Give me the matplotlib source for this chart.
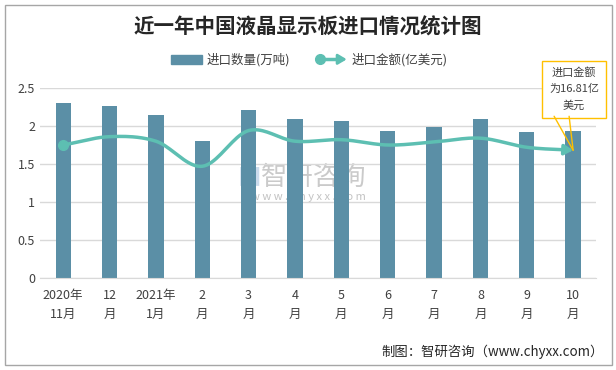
import numpy as np
import matplotlib
matplotlib.use("Agg")
from matplotlib import pyplot as plt
from matplotlib.patches import Patch, Rectangle, FancyArrowPatch
from matplotlib.lines import Line2D
from matplotlib.legend_handler import HandlerBase

plt.rcParams['font.family'] = ['Noto Sans CJK SC', 'DejaVu Sans']

# 数据
months = ['2020年\n11月', '12\n月', '2021年\n1月', '2\n月', '3\n月', '4\n月',
          '5\n月', '6\n月', '7\n月', '8\n月', '9\n月', '10\n月']
qty = [2.30, 2.26, 2.14, 1.80, 2.21, 2.09, 2.07, 1.93, 1.99, 2.09, 1.92, 1.93]   # 万吨
amount = [1.75, 1.86, 1.80, 1.47, 1.94, 1.80, 1.82, 1.75, 1.79, 1.84, 1.72, 1.681]  # 亿美元
yticks = [0, 0.5, 1, 1.5, 2, 2.5]
ytick_labels = ['0', '0.5', '1', '1.5', '2', '2.5']

bar_color = '#5B8FA6'
line_color = '#5DBFB2'
box_color = '#FFC000'


def smooth(x, y, n=20):
    # catmull-rom, only for drawing the smoothed line
    x = np.asarray(x, float)
    y = np.asarray(y, float)
    px = np.concatenate([[2 * x[0] - x[1]], x, [2 * x[-1] - x[-2]]])
    py = np.concatenate([[2 * y[0] - y[1]], y, [2 * y[-1] - y[-2]]])
    xs, ys = [], []
    t = np.linspace(0, 1, n, endpoint=False)
    for i in range(1, len(px) - 2):
        for p, out in ((px, xs), (py, ys)):
            p0, p1, p2, p3 = p[i - 1], p[i], p[i + 1], p[i + 2]
            out.extend(0.5 * ((2 * p1) + (-p0 + p2) * t
                              + (2 * p0 - 5 * p1 + 4 * p2 - p3) * t ** 2
                              + (-p0 + 3 * p1 - 3 * p2 + p3) * t ** 3))
    xs.append(x[-1])
    ys.append(y[-1])
    return np.array(xs), np.array(ys)


class HandlerArrowLine(HandlerBase):
    # legend: circle -> arrow
    def create_artists(self, legend, orig_handle, xdescent, ydescent, width, height, fontsize, trans):
        y = height / 2 - ydescent
        ln = Line2D([-xdescent + 3, width - xdescent - 4], [y, y], color=line_color, lw=2.5,
                    transform=trans)
        dot = Line2D([-xdescent + 3], [y], marker='o', ms=7, color=line_color, transform=trans)
        arr = FancyArrowPatch((width - xdescent - 8, y), (width - xdescent + 2, y),
                              arrowstyle='-|>,head_length=0.5,head_width=0.3', color=line_color,
                              lw=2, mutation_scale=10, transform=trans)
        return [ln, dot, arr]


fig = plt.figure(figsize=(6.16, 3.70), dpi=100)
fig.patches.append(Rectangle((0.008, 0.014), 0.985, 0.972, transform=fig.transFigure,
                             fill=False, ec='#A6A6A6', lw=1))
ax = fig.add_axes([0.065, 0.249, 0.903, 0.513])

x = np.arange(len(months))
ax.bar(x, qty, width=0.33, color=bar_color, zorder=2)

sx, sy = smooth(x, amount)
ax.plot(sx[:-3], sy[:-3], color=line_color, lw=2.5, zorder=3, solid_capstyle='round')
ax.plot(x[0], amount[0], 'o', color=line_color, ms=7, zorder=4)
ax.annotate('', xy=(x[-1], amount[-1]), xytext=(sx[-4], sy[-4]),
            arrowprops=dict(arrowstyle='-|>,head_length=0.5,head_width=0.3',
                            color=line_color, lw=2.5, shrinkA=0, shrinkB=0), zorder=4)

ax.set_xlim(-0.5, len(months) - 0.5)
ax.set_ylim(0, 2.5)
ax.set_yticks(yticks, ytick_labels)
ax.set_xticks(x, months)
ax.tick_params(axis='both', length=0, labelsize=9, colors='#404040')
ax.tick_params(axis='x', pad=8)
for lbl in ax.get_xticklabels():
    lbl.set_linespacing(1.55)
ax.grid(axis='y', color='#D9D9D9', lw=1, zorder=0)
for s in ['left', 'right', 'top']:
    ax.spines[s].set_visible(False)
ax.spines['bottom'].set_color('#D9D9D9')

# 标注框
ax.annotate('进口金额\n为16.81亿\n美元', xy=(x[-1], amount[-1]), xytext=(1, 61),
            textcoords='offset pixels', ha='center', va='center', fontsize=8,
            color='#404040', linespacing=1.75,
            bbox=dict(boxstyle='square,pad=0.6', fc='white', ec=box_color, lw=1),
            annotation_clip=False, zorder=6)
for dx in (-19, -4):
    ax.annotate('', xy=(x[-1], amount[-1]), xytext=(dx, 34), textcoords='offset pixels',
                arrowprops=dict(arrowstyle='-', color=box_color, lw=1, shrinkA=0, shrinkB=0),
                annotation_clip=False, zorder=6)

# 水印
ax.text(0.509, 0.52, '智研咨询', fontsize=19, color='#B4B4B4', alpha=0.7, ha='center',
        va='center', transform=fig.transFigure, zorder=1)
ax.text(0.405, 0.52, '■', fontsize=17, color='#A9C4E0', alpha=0.6, ha='center',
        va='center', transform=fig.transFigure, zorder=1)
ax.text(0.50, 0.468, 'w w w . c h y x x . c o m', fontsize=8, color='#B4B4B4', alpha=0.8,
        ha='center', va='center', transform=fig.transFigure, zorder=1)

fig.text(0.5, 0.928, '近一年中国液晶显示板进口情况统计图', fontsize=14.8, fontweight='bold',
         ha='center', va='center', color='#262626')

h_bar = Patch(color=bar_color)
h_line = Line2D([], [], color=line_color)
fig.legend([h_bar, h_line], ['进口数量(万吨)', '进口金额(亿美元)'],
           handler_map={h_line: HandlerArrowLine()},
           loc='center', bbox_to_anchor=(0.502, 0.838), ncol=2, frameon=False,
           fontsize=9, handlelength=2.5, columnspacing=2.0,
           handletextpad=0.4, labelcolor='#404040')

fig.text(0.98, 0.048, '制图：智研咨询（www.chyxx.com）', fontsize=9.6, ha='right',
         va='center', color='#262626')

fig.savefig('out.png', dpi=100)
